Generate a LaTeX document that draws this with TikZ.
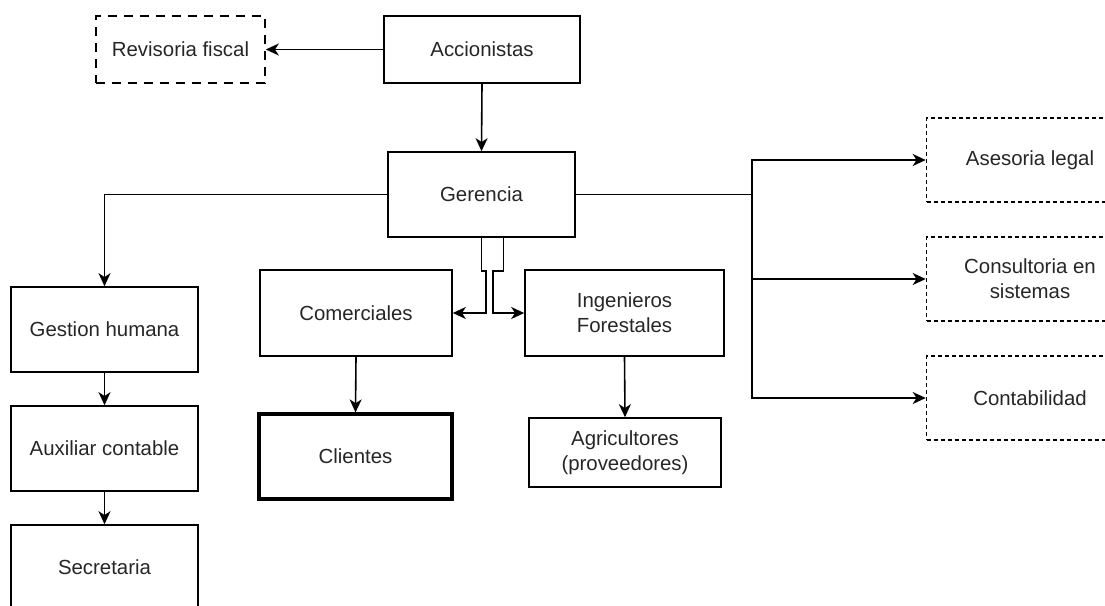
\documentclass[tikz,border=0pt]{standalone}
\usepackage{fontspec}
\setmainfont{Liberation Sans}
\usetikzlibrary{arrows.meta}
\begin{document}
\begin{tikzpicture}[x=1pt,y=-1pt,
  box/.style={draw, line width=1.6pt, rectangle, align=center, inner sep=0pt, text=black!85, font=\fontsize{20.4}{25}\selectfont},
  longdash/.style={box, dash pattern=on 9pt off 7pt},
  shortdash/.style={box, dash pattern=on 4pt off 3pt},
  conn/.style={line width=1.6pt, -{Stealth[length=13pt,width=12pt,inset=3.8pt]}}]
\useasboundingbox (0,0) rectangle (1105,605);
\clip (0,0) rectangle (1105,605);

\node[box, minimum width=196pt, minimum height=67pt] (acc) at (482,49.5) {Accionistas};
\node[longdash, minimum width=169pt, minimum height=67pt] (rev) at (180.5,49.5) {Revisoria fiscal};
\node[box, minimum width=187pt, minimum height=85pt] (ger) at (481.5,194.5) {Gerencia};

\node[box, minimum width=187pt, minimum height=85pt] (gh) at (104.5,329.5) {Gestion humana};
\node[box, minimum width=187pt, minimum height=85pt] (aux) at (104.5,448.5) {Auxiliar contable};
\node[box, minimum width=187pt, minimum height=85pt] (sec) at (104.5,567.5) {Secretaria};

\node[box, minimum width=192pt, minimum height=86pt] (com) at (356,313) {Comerciales};
\node[box, line width=3.2pt, minimum width=193pt, minimum height=85pt] (cli) at (355.5,456.5) {Clientes};

\node[box, minimum width=199pt, minimum height=86pt] (ing) at (624.5,313) {Ingenieros\\Forestales};
\node[box, minimum width=192pt, minimum height=69pt] (agr) at (625,452.5) {Agricultores\\(proveedores)};

\node[shortdash, minimum width=207pt, minimum height=84pt] (ase) at (1030,160) {Asesoria legal};
\node[shortdash, minimum width=207pt, minimum height=84pt] (cns) at (1030,279) {Consultoria en\\sistemas};
\node[shortdash, minimum width=207pt, minimum height=84pt] (cnt) at (1030,398) {Contabilidad};

\coordinate (jr) at (752,194.5);

\draw[conn] (acc.west) -- (rev.east);
\draw[conn] (acc.south) -- (ger.north);
\draw[conn] (ger.west) -| (gh.north);
\draw[conn] (gh.south) -- (aux.north);
\draw[conn] (aux.south) -- (sec.north);
\draw[conn] (com.south) -- (cli.north);
\draw[conn] (ing.south) -- (agr.north);

\draw[conn] (ger.south) -- ++(0,33) -- ++(4.5,0) |- (com.east);
\draw[conn] ([xshift=21.8pt]ger.south) -- ++(0,33) -- ++(-10.6,0) |- (ing.west);

\draw[line width=1.6pt] (ger.east) -- (jr);
\draw[conn] (jr) |- (ase.west);
\draw[conn] (jr) |- (cns.west);
\draw[conn] (jr) |- (cnt.west);
\end{tikzpicture}
\end{document}
